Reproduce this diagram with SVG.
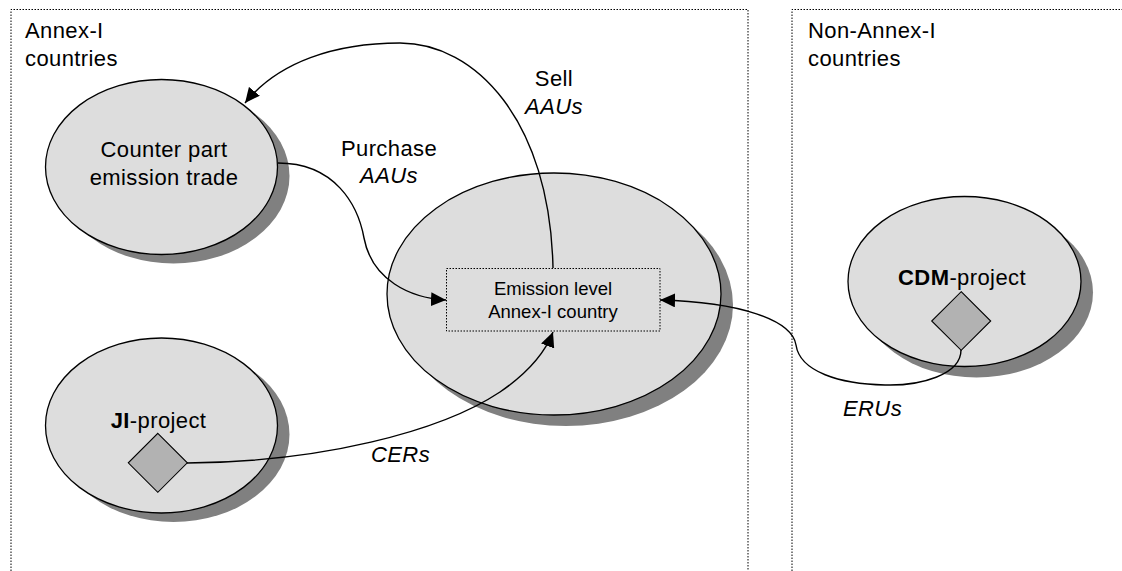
<svg xmlns="http://www.w3.org/2000/svg" width="1122" height="571" viewBox="0 0 1122 571">
<defs>
<style>
.region{fill:none;stroke:#000;stroke-width:1;stroke-dasharray:1.5 1.5}
.shadow{fill:#808080;stroke:none}
.node{fill:#dddddd;stroke:#000;stroke-width:1.3}
.dia{fill:#b2b2b2;stroke:#000;stroke-width:1.1}
.t{font-family:"Liberation Sans",Arial,sans-serif;font-size:22px;letter-spacing:0.4px;fill:#000}
.ts{font-family:"Liberation Sans",Arial,sans-serif;font-size:18.5px;fill:#000}
.c{text-anchor:middle}
.i{font-style:italic}
.b{font-weight:bold}
.conn{fill:none;stroke:#000;stroke-width:1.4}
</style>
<marker id="arr" markerUnits="userSpaceOnUse" markerWidth="16" markerHeight="14" refX="15" refY="7" orient="auto">
<path d="M0,0 L15,7 L0,14 Z" fill="#000"/>
</marker>
</defs>
<rect width="1122" height="571" fill="#fff"/>

<g id="annex-region">
<path class="region" d="M11,580 L11,9.5 L748,9.5 L748,580"/>
<text class="t" x="25" y="38">Annex-I</text>
<text class="t" x="25" y="65.5">countries</text>
</g>
<g id="non-annex-region">
<path class="region" d="M792,580 L792,9.5 L1130,9.5"/>
<text class="t" x="808" y="38">Non-Annex-I</text>
<text class="t" x="808" y="65.5">countries</text>
</g>

<g id="counterpart">
<ellipse class="shadow" cx="173.5" cy="176" rx="116" ry="87.5"/>
<ellipse class="node" cx="161.5" cy="167" rx="116" ry="87.5"/>
<text class="t c" x="164" y="157">Counter part</text>
<text class="t c" x="164" y="185">emission trade</text>
</g>

<g id="ji-project">
<ellipse class="shadow" cx="173.5" cy="434.5" rx="116" ry="87.5"/>
<ellipse class="node" cx="161.5" cy="425.5" rx="116" ry="87.5"/>
<text class="t c" x="158.5" y="427.5"><tspan class="b">JI</tspan>-project</text>
<polygon class="dia" points="157.8,433.3 187.3,462.8 157.8,492.3 128.3,462.8"/>
</g>

<g id="emission">
<ellipse class="shadow" cx="566" cy="305" rx="167" ry="121"/>
<ellipse class="node" cx="554" cy="294" rx="167" ry="121"/>
<rect x="446.5" y="268.5" width="213.5" height="62.5" fill="none" stroke="#000" stroke-width="1" stroke-dasharray="1.5 1.5"/>
<text class="ts c" x="553" y="295">Emission level</text>
<text class="ts c" x="553" y="318">Annex-I country</text>
</g>

<g id="cdm-project">
<ellipse class="shadow" cx="976.5" cy="292.5" rx="116.5" ry="85"/>
<ellipse class="node" cx="964.5" cy="281.5" rx="116.5" ry="85"/>
<text class="t c" x="962" y="285"><tspan class="b">CDM</tspan>-project</text>
<polygon class="dia" points="961.2,291.7 990.7,321 961.2,350.3 931.7,321"/>
</g>

<g id="connectors">
<path class="conn" marker-end="url(#arr)" d="M553,268 C550,120 475,43 400,43 C335,43 278,62 245,103"/>
<path class="conn" marker-end="url(#arr)" d="M278,163 C335,163 358,205 364,238 C372,280 410,298 446,300"/>
<path class="conn" marker-end="url(#arr)" d="M187,463 C320,462 440,432 500,392 C535,368 548,345 553,332"/>
<path class="conn" marker-end="url(#arr)" d="M961,350 C961,375 920,386 885,385 C840,384 800,372 796,345 C792,320 740,302 660,300"/>
</g>

<g id="labels">
<text class="t c" x="554" y="86">Sell</text>
<text class="t c i" x="554" y="114">AAUs</text>
<text class="t c" x="389" y="156">Purchase</text>
<text class="t c i" x="389" y="183">AAUs</text>
<text class="t i" x="371" y="462">CERs</text>
<text class="t i" x="843" y="415.5">ERUs</text>
</g>
</svg>
